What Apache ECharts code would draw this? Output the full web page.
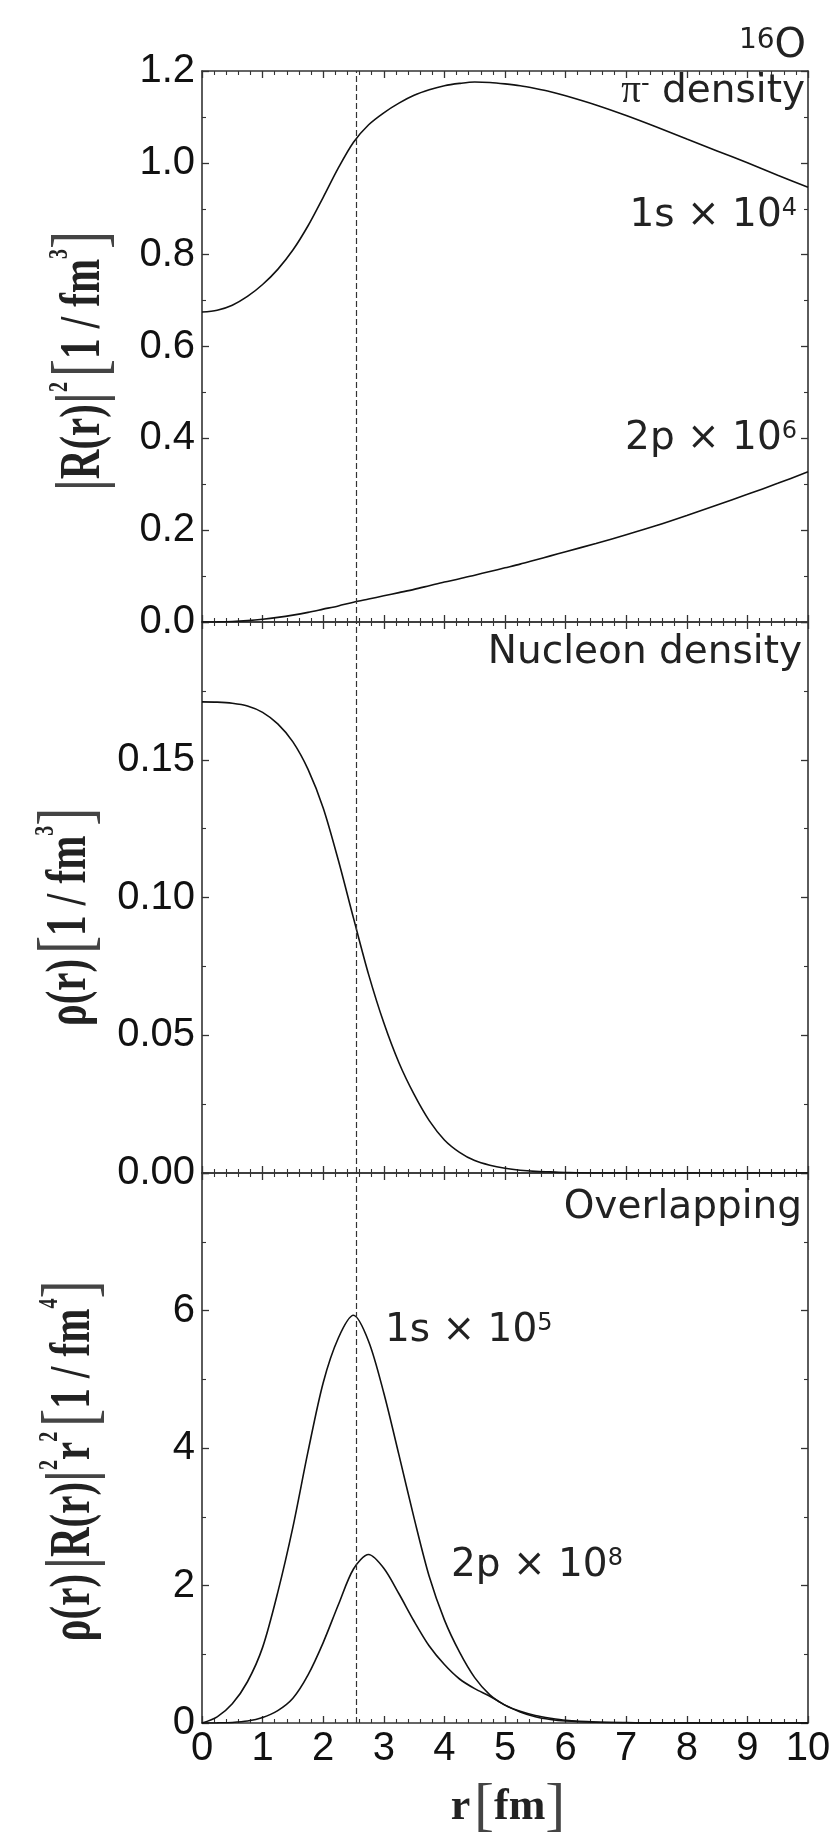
<!DOCTYPE html>
<html><head><meta charset="utf-8">
<script src="https://cdn.jsdelivr.net/npm/echarts@6/dist/echarts.min.js"></script>
<style>html,body{margin:0;padding:0;background:#fff}#c{width:837px;height:1843px}</style>
</head><body><div id="c"></div>
<script>
// radius grid r [fm]
const rGrid = [0,0.25,0.5,0.75,1,1.25,1.5,1.75,2,2.25,2.5,2.75,3,3.25,3.5,3.75,4,4.25,4.5,4.75,5,5.25,5.5,5.75,6,6.5,7,7.5,8,8.5,9,9.5,10];
// pi- density |R(r)|^2 : 1s x 1e4, 2p x 1e6
const pion1s = [0.675,0.679,0.690,0.709,0.735,0.768,0.810,0.863,0.925,0.989,1.045,1.083,1.109,1.130,1.147,1.159,1.168,1.173,1.176,1.175,1.172,1.168,1.162,1.155,1.146,1.126,1.103,1.078,1.052,1.026,1.000,0.973,0.947];
const pion2p = [0,0.0002,0.001,0.003,0.006,0.010,0.015,0.021,0.028,0.035,0.043,0.050,0.057,0.064,0.071,0.079,0.087,0.094,0.102,0.110,0.118,0.126,0.135,0.144,0.153,0.171,0.190,0.210,0.232,0.255,0.278,0.302,0.327];
// nucleon density rho(r)
const nucleon = [0.1710,0.1709,0.1705,0.1695,0.1672,0.1630,0.1565,0.1465,0.1325,0.1135,0.0925,0.0720,0.0545,0.0400,0.0285,0.0190,0.0120,0.0075,0.0045,0.0028,0.0017,0.0010,0.0006,0.0004,0.0002,0,0,0,0,0,0,0,0];
// overlapping rho|R|^2 r^2 : 1s x 1e5, 2p x 1e8
const overlap1s = [0,0.09,0.28,0.60,1.10,1.90,2.85,3.95,4.95,5.60,5.93,5.55,4.80,3.90,2.98,2.13,1.50,1.03,0.66,0.41,0.26,0.16,0.09,0.05,0.028,0.010,0.003,0,0,0,0,0,0];
const overlap2p = [0,0.002,0.008,0.028,0.08,0.18,0.36,0.70,1.17,1.72,2.24,2.45,2.25,1.88,1.48,1.12,0.85,0.64,0.50,0.39,0.26,0.17,0.11,0.07,0.04,0.015,0.005,0,0,0,0,0,0];
// nuclear radius marker
const radiusLine = 2.55;
// axis ranges / ticks
const xRange = [0, 10, 1];
const yTopRange = [0, 1.2, 0.2];
const yMidRange = [0, 0.2, 0.05];
const yBotRange = [0, 8, 2];

const chart = echarts.init(document.getElementById('c'), null, {renderer:'canvas'});
const AX = '#333';
const grids = [
  {left:202, right:29, top:71, height:551},
  {left:202, right:29, top:622, height:551},
  {left:202, right:29, top:1173, height:550}
];
function xAx(g, pos, labels){
  return {type:'value', gridIndex:g, position:pos, min:xRange[0], max:xRange[1], interval:xRange[2],
    axisLine:{show:true, onZero:false, lineStyle:{color:AX, width:1.6}},
    axisTick:{show:true, inside:true, length:7, lineStyle:{color:AX, width:1.3}},
    minorTick:{show:true, splitNumber:5, length:4, lineStyle:{color:AX, width:1.1}},
    splitLine:{show:false}, minorSplitLine:{show:false},
    axisLabel:{show:labels, fontFamily:'Liberation Sans', fontSize:40, color:'#111', margin:6}};
}
function yAx(g, pos, rng, dec, labels, showMax){
  return {type:'value', gridIndex:g, position:pos, min:rng[0], max:rng[1], interval:rng[2],
    axisLine:{show:true, onZero:false, lineStyle:{color:AX, width:1.6}},
    axisTick:{show:true, inside:true, length:7, lineStyle:{color:AX, width:1.3}},
    minorTick:{show:true, splitNumber:2, length:4, lineStyle:{color:AX, width:1.1}},
    splitLine:{show:false}, minorSplitLine:{show:false},
    axisLabel:{show:labels, showMaxLabel:showMax, fontFamily:'Liberation Sans', fontSize:40, color:'#111', margin:7,
      formatter:v=>Number(v).toFixed(dec)}};
}
const xAxes = [xAx(0,'bottom',false), xAx(0,'top',false), xAx(1,'bottom',false), xAx(1,'top',false), xAx(2,'bottom',true), xAx(2,'top',false)];
const yAxes = [yAx(0,'left',yTopRange,1,true,true), yAx(0,'right',yTopRange,1,false,true),
  yAx(1,'left',yMidRange,2,true,false), yAx(1,'right',yMidRange,2,false,false),
  yAx(2,'left',yBotRange,0,true,false), yAx(2,'right',yBotRange,0,false,false)];
const pair = arr => rGrid.map((r,i)=>[r, arr[i]]);
const dash = {silent:true, symbol:['none','none'], label:{show:false}, animation:false,
  lineStyle:{type:[6,3], color:'#333', width:1.2}, data:[{xAxis:radiusLine}]};
function ln(arr, xi, yi, withMark){
  const s = {type:'line', xAxisIndex:xi, yAxisIndex:yi, data:pair(arr), showSymbol:false, symbol:'none',
    smooth:0.3, silent:true, lineStyle:{color:'#111', width:1.6}};
  if (withMark) s.markLine = dash;
  return s;
}
const series = [
  ln(pion1s,0,0,true), ln(pion2p,0,0,false),
  ln(nucleon,2,2,true),
  ln(overlap1s,4,4,true), ln(overlap2p,4,4,false)
];
const SANS = 'DejaVu Sans';
const supS = {fontFamily:SANS, fontSize:24, verticalAlign:'top', fill:'#222'};
function ann(x, y, text, align, extraRich){
  return {type:'text', x, y, silent:true, z:100,
    style:{text, fill:'#222', fontFamily:SANS, fontSize:39, textAlign:align, textVerticalAlign:'middle',
      rich:Object.assign({n:{fontFamily:SANS, fontSize:39, fill:'#222'}, sup:supS}, extraRich||{})}};
}
const serifRich = {
  b:{fontFamily:'Liberation Serif', fontWeight:'bold', fontSize:41, fill:'#222'},
  bar:{fontFamily:'Liberation Sans', fontWeight:'normal', fontSize:46, fill:'#444'},
  br:{fontFamily:'Liberation Serif', fontWeight:'normal', fontSize:54, fill:'#444'},
  sup:{fontFamily:'Liberation Serif', fontWeight:'bold', fontSize:20, verticalAlign:'top', fill:'#222'},
  sp:{fontFamily:'Liberation Serif', fontSize:20}
};
function yName(x, y, text){
  return {type:'text', x, y, rotation:Math.PI/2, scaleY:1.4, silent:true,
    style:{text, textAlign:'center', textVerticalAlign:'middle', fill:'#222', rich:serifRich}};
}
const graphic = [
  ann(805, 92, '{pi|π}{sup|-} density', 'right', {pi:{fontFamily:'Liberation Serif', fontSize:39, fill:'#222'}}),
  ann(797, 216, '1s × 10{sup|4}', 'right'),
  ann(797, 439, '2p × 10{sup|6}', 'right'),
  ann(802, 653, 'Nucleon density', 'right'),
  ann(802, 1208, 'Overlapping', 'right'),
  ann(385, 1331, '1s × 10{sup|5}', 'left'),
  ann(451, 1566, '2p × 10{sup|8}', 'left'),
  {type:'text', x:806, y:47, silent:true,
    style:{text:'{s|16}{o|O}', textAlign:'right', textVerticalAlign:'middle', fill:'#222',
      rich:{s:{fontFamily:SANS, fontSize:28, verticalAlign:'top', fill:'#222'}, o:{fontFamily:SANS, fontSize:40, fill:'#222'}}}},
  yName(84, 361, '{bar||}{b|R(r)}{bar||}{sup|2}{sp| }{br|[}{b|1 / fm}{sup|3}{br|]}'),
  yName(70, 917, '{b|ρ(r)}{sp| }{br|[}{b|1 / fm}{sup|3}{br|]}'),
  yName(74, 1461, '{b|ρ(r)}{sp| }{bar||}{b|R(r)}{bar||}{sup|2}{b|r}{sup|2}{sp| }{br|[}{b|1 / fm}{sup|4}{br|]}'),
  {type:'text', x:508, y:1808, silent:true,
    style:{text:'{b|r}{sp| }{br|[}{b|fm}{br|]}', textAlign:'center', textVerticalAlign:'middle', fill:'#222',
      rich:{b:{fontFamily:'Liberation Serif', fontWeight:'bold', fontSize:44, fill:'#222'},
            br:{fontFamily:'Liberation Serif', fontSize:60, fill:'#444'},
            sp:{fontSize:14}}}}
];
chart.setOption({animation:false, backgroundColor:'#fff', grid:grids, xAxis:xAxes, yAxis:yAxes, series, graphic});
</script></body></html>
